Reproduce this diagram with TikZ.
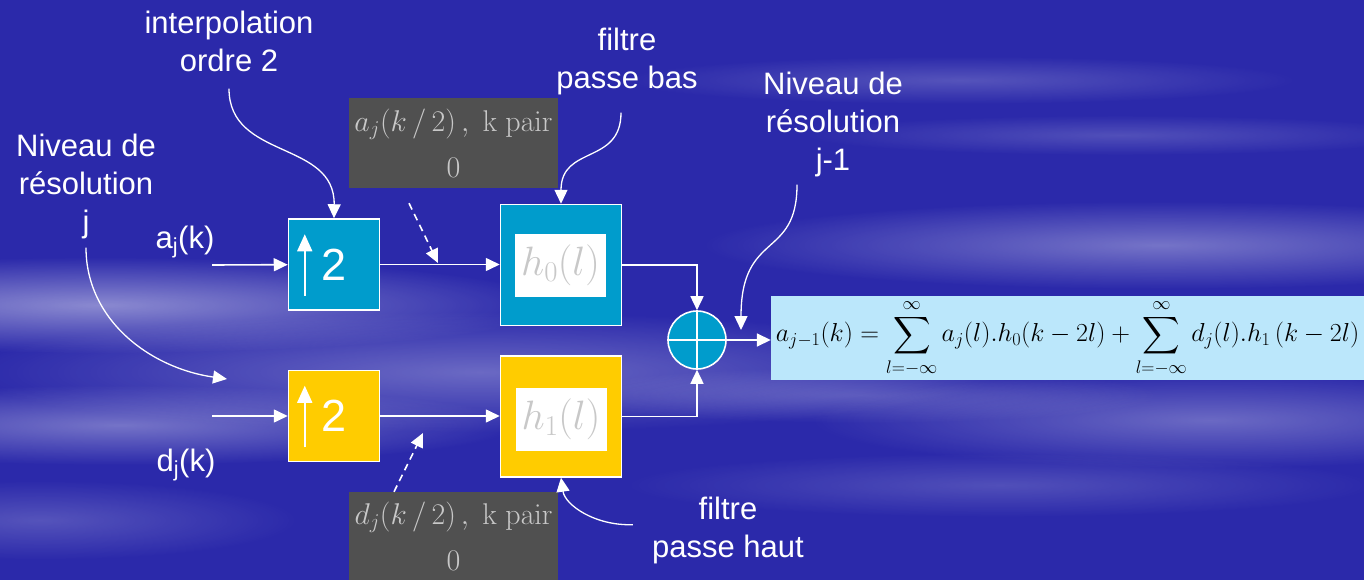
\RequirePackage{fix-cm}
\documentclass[tikz,border=0pt]{standalone}
\usepackage{amsmath,amssymb}
\usepackage[no-math]{fontspec}
\setmainfont{Liberation Sans}
\usetikzlibrary{arrows.meta,positioning,calc,fadings}

\definecolor{fond}{RGB}{43,41,170}
\definecolor{bleuf}{RGB}{0,156,204}
\definecolor{jaune}{RGB}{255,204,0}
\definecolor{grisf}{RGB}{80,80,80}
\definecolor{grisc}{RGB}{200,200,200}
\definecolor{ciel}{RGB}{187,231,251}
\newcommand{\lblfont}{\fontsize{31}{38}\selectfont}
\tikzfading[name=nuage, inner color=transparent!0, outer color=transparent!100]

\begin{document}
\begin{tikzpicture}[x=1pt, y=-1pt,
    lbl/.style={text=white, align=center, font=\lblfont, inner sep=0pt},
    upbox/.style={draw=white, line width=1.5pt, minimum width=91pt, minimum height=91pt, inner sep=0pt, font=\fontsize{45}{45}\selectfont, text=white},
    filt/.style={draw=white, line width=1.5pt, minimum width=121pt, minimum height=121pt, inner sep=0pt},
    resp/.style={fill=white, text=grisc, minimum width=91pt, minimum height=63pt, inner sep=0pt, font=\fontsize{41}{41}\selectfont},
    note/.style={fill=grisf, text=grisc, minimum width=209pt, align=center, inner sep=0pt, font=\fontsize{30}{46}\selectfont},
    arr/.style={draw=white, line width=1.6pt, -{Triangle[length=14pt,width=13pt]}},
    carr/.style={arr, line width=1.3pt},
    darr/.style={arr, dash pattern=on 7pt off 5pt}
]
\useasboundingbox (0,0) rectangle (1364,580);
\clip (0,0) rectangle (1364,580);
% fond bleu et nuages
\fill[fond] (0,0) rectangle (1364,580);
\foreach \cx/\cy/\rx/\ry/\op in {100/305/230/24/0.45, 120/425/200/20/0.35, 480/372/260/30/0.3,
    1160/245/230/22/0.35, 1210/420/200/24/0.3, 960/80/170/12/0.2, 1120/135/160/10/0.18,
    40/520/130/20/0.2, 1000/485/190/16/0.18, 860/395/150/14/0.2}
  \fill[white, opacity=\op, path fading=nuage] (\cx,\cy) ellipse [x radius=2*\rx, y radius=2*\ry];

% blocs
\node[upbox, fill=bleuf] (upa) at (334,264.5) {2};
\node[upbox, fill=jaune] (upd) at (334,416) {2};
\foreach \b in {upa,upd}
  \draw[white, line width=1.6pt, -{Triangle[length=17pt,width=15pt]}]
    ([xshift=17pt,yshift=15pt]\b.south west) -- ([xshift=17pt,yshift=-16pt]\b.north west);

\node[filt, fill=bleuf] (fb0) at (561,265) {};
\node[resp] (h0) at (560.5,265.5) {$h_0(l)$};
\node[filt, fill=jaune] (fb1) at (561,416.5) {};
\node[resp] (h1) at (561,419.5) {$h_1(l)$};

\node[circle, draw=white, line width=1.6pt, fill=bleuf, minimum size=58pt, inner sep=0pt] (som) at (697,340) {};
\draw[white, line width=1.6pt] (som.north) -- (som.south) (som.west) -- (som.east);

\node[note, minimum height=90pt] (na) at (453.5,143) {$a_j(k\,/\,2)\,,\ \mathrm{k\ pair}$\\$0$};
\node[note, minimum height=88pt] (nd) at (453.5,536) {$d_j(k\,/\,2)\,,\ \mathrm{k\ pair}$\\$0$};

\node[fill=ciel, minimum width=593pt, minimum height=84pt, inner sep=0pt, font=\fontsize{26}{26}\selectfont] (res) at (1067.5,338)
  {$\displaystyle a_{j-1}(k)=\sum_{l=-\infty}^{\infty}a_j(l).h_0(k-2l)+\sum_{l=-\infty}^{\infty}d_j(l).h_1\,(k-2l)$};

% textes
\node[lbl] (interp) at (229,41) {interpolation\\ordre 2};
\node[lbl] (fbas) at (627,61) {filtre\\passe bas};
\node[lbl] (nivb) at (833,124) {Niveau de\\résolution\\j-1};
\node[lbl] (niva) at (86,186) {Niveau de\\résolution\\j};
\node[lbl] (fhaut) at (728,530) {filtre\\passe haut};
\node[lbl] (laj) at (185,242) {a\textsubscript{j}(k)};
\node[lbl] (ldj) at (186,465) {d\textsubscript{j}(k)};

% liaisons
\coordinate (ea) at (212,265);
\coordinate (ed) at (212,416);
\coordinate (ta) at (438,263);
\coordinate (td) at (423,433);
\coordinate (cj) at (741,330);
\coordinate (cd) at (227,379);
\draw[arr] (ea) -- (upa);
\draw[arr] (ed) -- (upd);
\draw[arr] (upa.east) -- (upa.east -| fb0.west);
\draw[arr] (upd.east) -- (upd.east -| fb1.west);
\draw[arr] (fb0.east) -| (som.north);
\draw[arr] (fb1.east) -| (som.south);
\draw[arr] (som.east) -- (som.east -| res.west);
\draw[darr] ([xshift=-44.5pt,yshift=-15pt]na.south) -- (ta);
\draw[darr] ([xshift=-59.5pt]nd.north) -- (td);

\draw[carr, shorten <=17pt] (interp.south) .. controls (229,160) and (335,140) .. (upa.north);
\draw[carr, shorten <=18pt] ([xshift=-6pt]fbas.south) .. controls (621,165) and (561,145) .. (fb0.north);
\draw[carr, shorten <=8pt] ([xshift=-36pt]nivb.south) .. controls (797,260) and (741,230) .. (cj);
\draw[carr, shorten <=9pt] (niva.south) .. controls (86,320) and (150,368) .. (cd);
\draw[carr, shorten <=19pt] ([yshift=6pt]fhaut.west) .. controls (595,526) and (565,505) .. (fb1.south);
\end{tikzpicture}
\end{document}
